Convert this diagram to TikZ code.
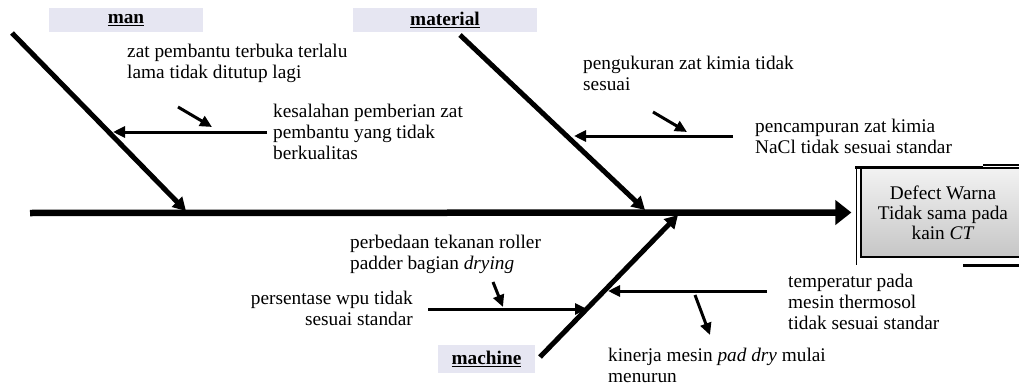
\documentclass[tikz,border=0pt]{standalone}
\usepackage{fontspec}
\setmainfont{Liberation Serif}
\usetikzlibrary{arrows.meta,calc}
\definecolor{labfill}{RGB}{230,230,242}
\begin{document}
\begin{tikzpicture}[x=1pt,y=-1pt,
  txt/.style={font=\fontsize{19.3}{21}\selectfont, inner sep=0pt, align=left},
  txtr/.style={font=\fontsize{19.3}{21}\selectfont, inner sep=0pt, align=right},
  catlabel/.style={fill=labfill, font=\fontsize{19.3}{21}\selectfont\bfseries, inner sep=0pt},
  effectbox/.style={draw, line width=1.2pt, top color=gray!10, bottom color=gray!45,
     font=\fontsize{19.3}{20}\selectfont, align=center, inner sep=0pt,
     minimum width=164pt, minimum height=89pt},
  spine/.style={line width=6.5pt, -{Triangle[length=16pt,width=24pt]}},
  bone/.style={line width=5pt, -{Triangle[length=13pt,width=14pt]}},
  subarrow/.style={line width=3pt, -{Triangle[length=12pt,width=11pt]}},
  hintarrow/.style={line width=3pt, -{Triangle[length=12pt,width=11pt]}},
  frameline/.style={line width=#1},
]
\useasboundingbox (0,0) rectangle (1019,385);
\clip (0,0) rectangle (1019,385);

% effect box
\node[effectbox] (effect) at (943,212.5) {Defect Warna\\Tidak sama pada\\kain \textit{CT}};
\draw[frameline=1pt] (856,167) -- (856,265);
\draw[frameline=3pt] (855,167) -- (983,167);
\draw[frameline=2pt] (983,165) -- (1019,165);
\draw[frameline=3pt] (963,265) -- (1019,265);

% category labels
\node[catlabel, minimum width=154pt, minimum height=24pt] (man) at (126,20) {\underline{man}};
\node[catlabel, minimum width=184pt, minimum height=24pt] (material) at (445,20) {\underline{material}};
\node[catlabel, minimum width=97pt, minimum height=28pt] (machine) at (486.5,359) {\underline{machine}};

% spine
\coordinate (sp0) at (30,213);
\draw[spine, shorten >=9pt] (sp0) -- (effect.west);

% bones
\coordinate (man0) at (12,33);   \coordinate (man1) at (186,211);
\coordinate (mat0) at (460,35);  \coordinate (mat1) at (645,210);
\coordinate (mac0) at (540,357); \coordinate (mac1) at (678,215);
\draw[bone] (man0) -- (man1);
\draw[bone] (mat0) -- (mat1);
\draw[bone] (mac0) -- (mac1);

% sub causes
\coordinate (s1a) at (267,132); \coordinate (s1b) at (113,132);
\coordinate (s2a) at (733,136); \coordinate (s2b) at (574,136);
\coordinate (s3a) at (428,309); \coordinate (s3b) at (587,309);
\coordinate (s4a) at (767,291); \coordinate (s4b) at (608,291);
\draw[subarrow] (s1a) -- (s1b);
\draw[subarrow] (s2a) -- (s2b);
\draw[subarrow] (s3a) -- (s3b);
\draw[subarrow] (s4a) -- (s4b);

% hint arrows
\coordinate (h1a) at (178,107); \coordinate (h1b) at (212,127);
\coordinate (h2a) at (653,112); \coordinate (h2b) at (687,132);
\coordinate (h3a) at (493,282); \coordinate (h3b) at (503,307);
\coordinate (h4a) at (695,295); \coordinate (h4b) at (710,335);
\draw[hintarrow] (h1a) -- (h1b);
\draw[hintarrow] (h2a) -- (h2b);
\draw[hintarrow] (h3a) -- (h3b);
\draw[hintarrow] (h4a) -- (h4b);

% texts
\node[txt, anchor=north west] (t1) at (127,44) {zat pembantu terbuka terlalu\\lama tidak ditutup lagi};
\node[txt, anchor=north west] (t2) at (273,104) {kesalahan pemberian zat\\pembantu yang tidak\\berkualitas};
\node[txt, anchor=north west] (t3) at (583,56) {pengukuran zat kimia tidak\\sesuai};
\node[txt, anchor=north west] (t4) at (755,119) {pencampuran zat kimia\\NaCl tidak sesuai standar};
\node[txt, anchor=north west] (t5) at (350,235) {perbedaan tekanan roller\\padder bagian \textit{drying}};
\node[txtr, anchor=north east] (t6) at (413,291) {persentase wpu tidak\\sesuai standar};
\node[txt, anchor=north west] (t7) at (788,274) {temperatur pada\\mesin thermosol\\tidak sesuai standar};
\node[txt, anchor=north west] (t8) at (608,348) {kinerja mesin \textit{pad dry} mulai\\menurun};
\end{tikzpicture}
\end{document}
